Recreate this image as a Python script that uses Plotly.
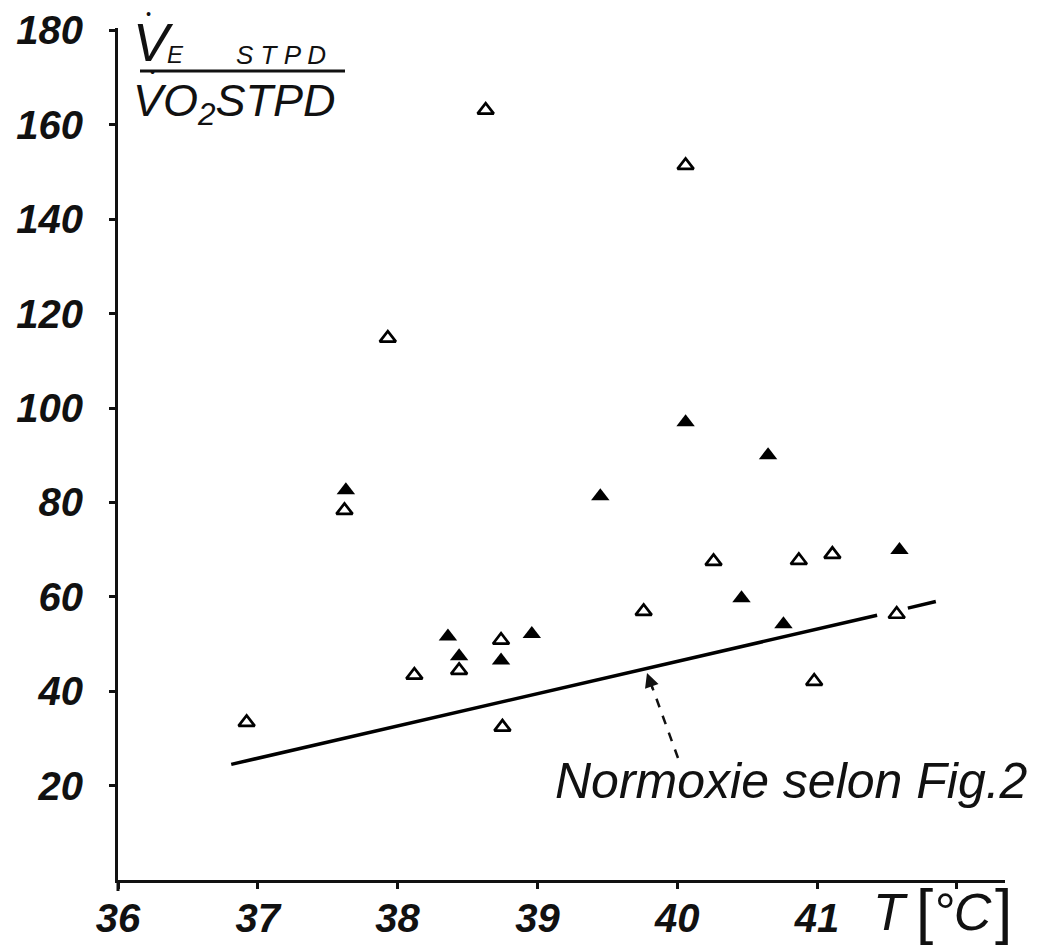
import plotly.graph_objects as go

# ---------------- data ----------------
open_T = [36.92, 37.93, 37.62, 38.63, 40.06, 38.44, 38.12, 38.74, 38.75, 40.26, 40.87, 41.11, 39.76, 41.57, 40.98]
open_V = [33.4, 114.8, 78.3, 163.1, 151.4, 44.4, 43.4, 50.8, 32.4, 67.5, 67.7, 69.0, 56.9, 56.3, 42.1]

filled_T = [37.63, 38.36, 38.44, 38.74, 38.96, 40.06, 40.65, 39.45, 41.59, 40.46, 40.76]
filled_V = [82.6, 51.6, 47.4, 46.5, 52.1, 97.0, 90.0, 81.3, 69.9, 59.7, 54.2]

# normoxia reference line (from Fig. 2) and its short continuation
norm_T = [36.81, 41.43]
norm_V = [24.5, 56.1]
norm_ext_T = [41.65, 41.85]
norm_ext_V = [57.6, 59.0]

x_ticks = [36, 37, 38, 39, 40, 41, 42]
x_ticktext = ["36", "37", "38", "39", "40", "41", ""]
y_ticks = [20, 40, 60, 80, 100, 120, 140, 160, 180]

# ---------------- layout geometry ----------------
W, H = 1037, 946
L, R, T, B = 118, 32, 28, 66
PW, PH = W - L - R, H - T - B

def px(xp):
    return (xp - L) / PW

def py(yp):
    return (H - B - yp) / PH

FONT = "Liberation Sans, Arial, sans-serif"

fig = go.Figure()

fig.add_trace(go.Scatter(x=norm_T, y=norm_V, mode="lines",
                         line=dict(color="black", width=3.5), hoverinfo="skip"))
fig.add_trace(go.Scatter(x=norm_ext_T, y=norm_ext_V, mode="lines",
                         line=dict(color="black", width=3.5), hoverinfo="skip"))

fig.add_trace(go.Scatter(x=open_T, y=open_V, mode="markers",
                         marker=dict(symbol="triangle-up-open", size=14, color="black",
                                     line=dict(width=2.7, color="black"))))
fig.add_trace(go.Scatter(x=filled_T, y=filled_V, mode="markers",
                         marker=dict(symbol="triangle-up", size=16, color="black",
                                     line=dict(width=0))))

tickfont = dict(family=FONT, size=40, color="#111", style="italic", weight="bold")

fig.update_layout(
    template="none",
    width=W, height=H,
    margin=dict(l=L, r=R, t=T, b=B, autoexpand=False),
    paper_bgcolor="white", plot_bgcolor="white",
    showlegend=False,
    xaxis=dict(range=[36, 36 + PW / 139.8], showgrid=False, zeroline=False,
               automargin=False,
               showline=True, linecolor="#111", linewidth=3,
               ticks="outside", ticklen=6, tickwidth=2.5, tickcolor="#111",
               tickvals=x_ticks, ticktext=x_ticktext, tickfont=tickfont,
               ticklabelstandoff=-5),
    yaxis=dict(range=[0, PH / 4.72], showgrid=False, zeroline=False,
               automargin=False,
               showline=True, linecolor="#111", linewidth=3,
               ticks="outside", ticklen=6, tickwidth=2.5, tickcolor="#111",
               tickvals=y_ticks, tickfont=tickfont, ticklabelstandoff=18),
)

shapes = []
# y axis continuing a little below the x axis
shapes.append(dict(type="line", xref="paper", yref="paper", x0=px(118), x1=px(118),
                   y0=py(880), y1=py(891), line=dict(color="#111", width=3)))
# fraction bar of the y title
shapes.append(dict(type="line", xref="paper", yref="paper", x0=px(140), x1=px(345),
                   y0=py(71), y1=py(71), line=dict(color="#111", width=3)))
# dashed arrow shaft
shapes.append(dict(type="line", xref="paper", yref="paper", x0=px(678), x1=px(650),
                   y0=py(758), y1=py(681), line=dict(color="#111", width=2.5, dash="dash")))
fig.update_layout(shapes=shapes)

txt = dict(family=FONT, color="#111")

def ann(text, xp, yp, size, xanchor="center", yanchor="middle", weight="normal", style="italic"):
    fig.add_annotation(text=text, xref="paper", yref="paper", x=px(xp), y=py(yp),
                       showarrow=False, xanchor=xanchor, yanchor=yanchor,
                       font=dict(size=size, weight=weight, style=style, **txt))

# y-axis title: VE STPD / VO2 STPD
ann("V", 131, 42, 54, xanchor="left")
ann("•", 148, 14, 14)
ann("E", 175, 55, 24)
ann("S T P D", 281, 55, 26)
ann("•", 152, 72, 14)
ann("VO<sub>2</sub>STPD", 131, 104, 45, xanchor="left")

# x-axis title: T [°C]
ann("T", 890, 912, 52)
ann("[", 924, 910, 62, style="normal")
ann("°C", 962, 912, 52)
ann("]", 1003, 910, 62, style="normal")

# normoxia label and arrow head
ann("Normoxie selon Fig.2", 1030, 781, 50, xanchor="right")
fig.add_annotation(xref="paper", yref="paper", x=px(647), y=py(673),
                   ax=6, ay=17, axref="pixel", ayref="pixel",
                   showarrow=True, arrowhead=2, arrowsize=1.3, arrowwidth=2.2,
                   arrowcolor="#111", text="")

fig.write_html("out.html", config={"displayModeBar": False},
               post_script="document.body.style.margin='0';")
